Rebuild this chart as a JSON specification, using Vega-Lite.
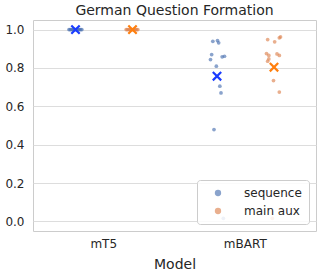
{
  "$schema": "https://vega.github.io/schema/vega-lite/v6.json",
  "width": 283,
  "height": 211,
  "autosize": {"type": "none"},
  "padding": {"left": 33, "top": 20, "right": 6, "bottom": 44},
  "background": "white",
  "title": {"text": "German Question Formation", "fontSize": 14, "font": "DejaVu Sans", "fontWeight": "normal", "color": "#262626", "offset": 2},
  "config": {
    "font": "DejaVu Sans",
    "view": {"stroke": "#cccccc", "strokeWidth": 1},
    "axis": {"labelColor": "#262626", "titleColor": "#262626", "labelFont": "DejaVu Sans", "titleFont": "DejaVu Sans", "titleFontWeight": "normal", "domain": false, "ticks": false}
  },
  "datasets": {
    "points": [
      {"model": "mT5", "type": "sequence", "acc": 1.0, "run": 1},
      {"model": "mT5", "type": "sequence", "acc": 1.0, "run": 2},
      {"model": "mT5", "type": "sequence", "acc": 1.0, "run": 3},
      {"model": "mT5", "type": "sequence", "acc": 1.0, "run": 4},
      {"model": "mT5", "type": "sequence", "acc": 1.0, "run": 5},
      {"model": "mT5", "type": "sequence", "acc": 1.0, "run": 6},
      {"model": "mT5", "type": "sequence", "acc": 1.0, "run": 7},
      {"model": "mT5", "type": "sequence", "acc": 1.0, "run": 8},
      {"model": "mT5", "type": "sequence", "acc": 1.0, "run": 9},
      {"model": "mT5", "type": "sequence", "acc": 1.0, "run": 10},
      {"model": "mT5", "type": "sequence", "acc": 1.0, "run": 11},
      {"model": "mT5", "type": "sequence", "acc": 1.0, "run": 12},
      {"model": "mT5", "type": "main aux", "acc": 1.0, "run": 2},
      {"model": "mT5", "type": "main aux", "acc": 1.0, "run": 3},
      {"model": "mT5", "type": "main aux", "acc": 1.0, "run": 4},
      {"model": "mT5", "type": "main aux", "acc": 1.0, "run": 5},
      {"model": "mT5", "type": "main aux", "acc": 1.0, "run": 6},
      {"model": "mT5", "type": "main aux", "acc": 1.0, "run": 7},
      {"model": "mT5", "type": "main aux", "acc": 1.0, "run": 8},
      {"model": "mT5", "type": "main aux", "acc": 1.0, "run": 9},
      {"model": "mT5", "type": "main aux", "acc": 1.0, "run": 10},
      {"model": "mT5", "type": "main aux", "acc": 1.0, "run": 11},
      {"model": "mT5", "type": "main aux", "acc": 1.0, "run": 12},
      {"model": "mBART", "type": "sequence", "acc": 0.844, "run": 1},
      {"model": "mBART", "type": "sequence", "acc": 0.870, "run": 2},
      {"model": "mBART", "type": "sequence", "acc": 0.939, "run": 3},
      {"model": "mBART", "type": "sequence", "acc": 0.479, "run": 4},
      {"model": "mBART", "type": "sequence", "acc": 0.809, "run": 6},
      {"model": "mBART", "type": "sequence", "acc": 0.943, "run": 7},
      {"model": "mBART", "type": "sequence", "acc": 0.931, "run": 8},
      {"model": "mBART", "type": "sequence", "acc": 0.705, "run": 9},
      {"model": "mBART", "type": "sequence", "acc": 0.670, "run": 10},
      {"model": "mBART", "type": "sequence", "acc": 0.858, "run": 11},
      {"model": "mBART", "type": "sequence", "acc": 0.016, "run": 12},
      {"model": "mBART", "type": "sequence", "acc": 0.861, "run": 13},
      {"model": "mBART", "type": "main aux", "acc": 0.875, "run": 1},
      {"model": "mBART", "type": "main aux", "acc": 0.948, "run": 2},
      {"model": "mBART", "type": "main aux", "acc": 0.835, "run": 2},
      {"model": "mBART", "type": "main aux", "acc": 0.847, "run": 3},
      {"model": "mBART", "type": "main aux", "acc": 0.865, "run": 3},
      {"model": "mBART", "type": "main aux", "acc": 0.016, "run": 6},
      {"model": "mBART", "type": "main aux", "acc": 0.734, "run": 7},
      {"model": "mBART", "type": "main aux", "acc": 0.936, "run": 8},
      {"model": "mBART", "type": "main aux", "acc": 0.873, "run": 10},
      {"model": "mBART", "type": "main aux", "acc": 0.865, "run": 12},
      {"model": "mBART", "type": "main aux", "acc": 0.674, "run": 12},
      {"model": "mBART", "type": "main aux", "acc": 0.957, "run": 12},
      {"model": "mBART", "type": "main aux", "acc": 0.962, "run": 13}
    ],
    "means": [
      {"model": "mT5", "type": "sequence", "acc": 1.0},
      {"model": "mT5", "type": "main aux", "acc": 1.0},
      {"model": "mBART", "type": "sequence", "acc": 0.757},
      {"model": "mBART", "type": "main aux", "acc": 0.804}
    ]
  },
  "encoding": {
    "x": {"field": "model", "type": "nominal", "title": "Model",
      "scale": {"domain": ["mT5", "mBART"], "paddingInner": 0, "paddingOuter": 0},
      "axis": {"labelAngle": 0, "labelFontSize": 12, "titleFontSize": 14, "labelPadding": 7, "titlePadding": 8, "grid": false}},
    "y": {"field": "acc", "type": "quantitative", "title": null,
      "scale": {"domain": [-0.05, 1.05], "nice": false, "zero": false},
      "axis": {"values": [0, 0.2, 0.4, 0.6, 0.8, 1.0], "format": ".1f", "labelFontSize": 12, "labelPadding": 9, "gridColor": "#dddddd", "gridWidth": 1}}
  },
  "layer": [
    {
      "data": {"name": "points"},
      "transform": [{"filter": "datum.type == 'sequence'"}],
      "mark": {"type": "circle", "size": 14, "opacity": 0.65},
      "encoding": {
        "xOffset": {"field": "run", "type": "quantitative", "scale": {"domain": [1, 13], "range": [36, 50]}},
        "color": {"field": "type", "type": "nominal", "scale": {"domain": ["sequence", "main aux"], "range": ["#4c72b0", "#dd8452"]},
          "legend": {"title": null, "orient": "bottom-right", "offset": 7, "fillColor": "rgba(255,255,255,0.85)", "strokeColor": "#cccccc", "cornerRadius": 3, "padding": 7, "symbolOpacity": 1, "symbolType": "circle", "symbolSize": 40, "symbolOffset": 8, "labelFontSize": 12, "labelColor": "#262626", "labelOffset": 20, "rowPadding": 6, "labelFont": "DejaVu Sans"}}
      }
    },
    {
      "data": {"name": "points"},
      "transform": [{"filter": "datum.type == 'main aux'"}],
      "mark": {"type": "circle", "size": 14, "opacity": 0.65},
      "encoding": {
        "xOffset": {"field": "run", "type": "quantitative", "scale": {"domain": [1, 13], "range": [92, 106]}},
        "color": {"field": "type", "type": "nominal"}
      }
    },
    {
      "data": {"name": "means"},
      "mark": {"type": "point", "shape": "M-1,-1L1,1M1,-1L-1,1", "filled": false, "size": 70, "strokeWidth": 2.2, "opacity": 1},
      "encoding": {
        "xOffset": {"field": "type", "type": "nominal", "scale": {"type": "point", "domain": ["sequence", "main aux"], "range": [42.5, 99.5], "padding": 0}},
        "color": {"condition": {"test": "datum.type == 'sequence'", "value": "#1a3cff"}, "value": "#ff7f0e"}
      }
    }
  ],
  "resolve": {"scale": {"xOffset": "independent"}}
}
